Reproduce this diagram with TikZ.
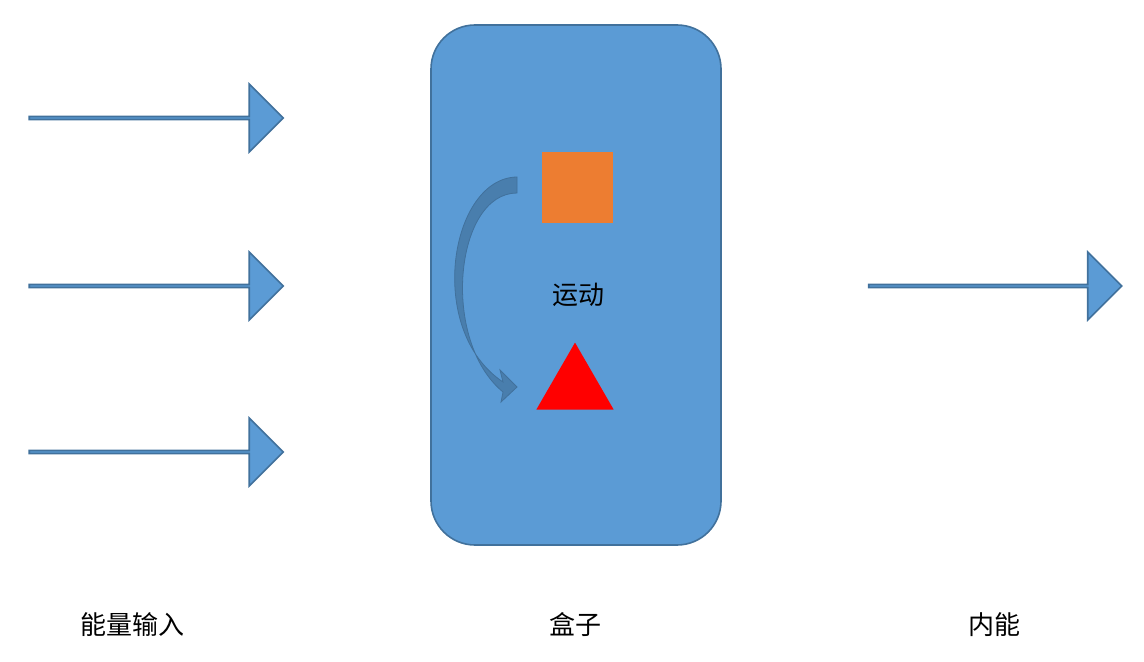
\documentclass[tikz,border=0pt]{standalone}
\usepackage{fontspec}
\setmainfont{Noto Sans CJK SC}
\usetikzlibrary{shapes.arrows,shapes.geometric}
\definecolor{boxblue}{HTML}{5B9BD5}
\definecolor{edgeblue}{HTML}{41719C}
\definecolor{sqorange}{HTML}{ED7D31}
\tikzset{
	energy arrow/.style={single arrow,draw=edgeblue,fill=boxblue,thick,
		minimum height=127pt,minimum width=34pt,single arrow head extend=8.75pt,
		single arrow tip angle=90,inner sep=0pt,outer sep=0pt},
	caption/.style={font=\fontsize{13}{15}\selectfont}
}
\begin{document}
\begin{tikzpicture}[x=0.5pt,y=-0.5pt]
	\useasboundingbox (0,0) rectangle (1144,662);
	\node[energy arrow] (in1) at (155.5,118) {};
	\node[energy arrow] (in2) at (155.5,286) {};
	\node[energy arrow] (in3) at (155.5,452) {};
	\node[energy arrow,minimum height=126.5pt] (out) at (994.5,286) {};
	\node[draw=edgeblue,fill=boxblue,thick,rounded corners=22pt,
		minimum width=145pt,minimum height=260pt,inner sep=0pt] (box) at (576,285) {};
	\node[fill=sqorange,minimum size=35.5pt,inner sep=0pt] (sq) at (577.5,187.5) {};
	\node[fill=red,isosceles triangle,isosceles triangle apex angle=60,shape border rotate=90,
		minimum height=33.5pt,inner sep=0pt,anchor=south] (tri) at (575,410) {};
	\node[caption] (move) at (578,295) {运动};
	% curved arrow from the square down to the triangle
	\draw[edgeblue,fill=edgeblue!80!boxblue,fill opacity=.85]
		(517,177) .. controls (450,178) and (425,330) .. (503,382)
		-- (500,370) -- (517,387) -- (501,402) -- (503,392)
		.. controls (440,340) and (455,193) .. (517,193) -- cycle;
	\node[caption] (lin) at (132,625) {能量输入};
	\node[caption] (lbox) at (575,625) {盒子};
	\node[caption] (lout) at (994,625) {内能};
\end{tikzpicture}
\end{document}
